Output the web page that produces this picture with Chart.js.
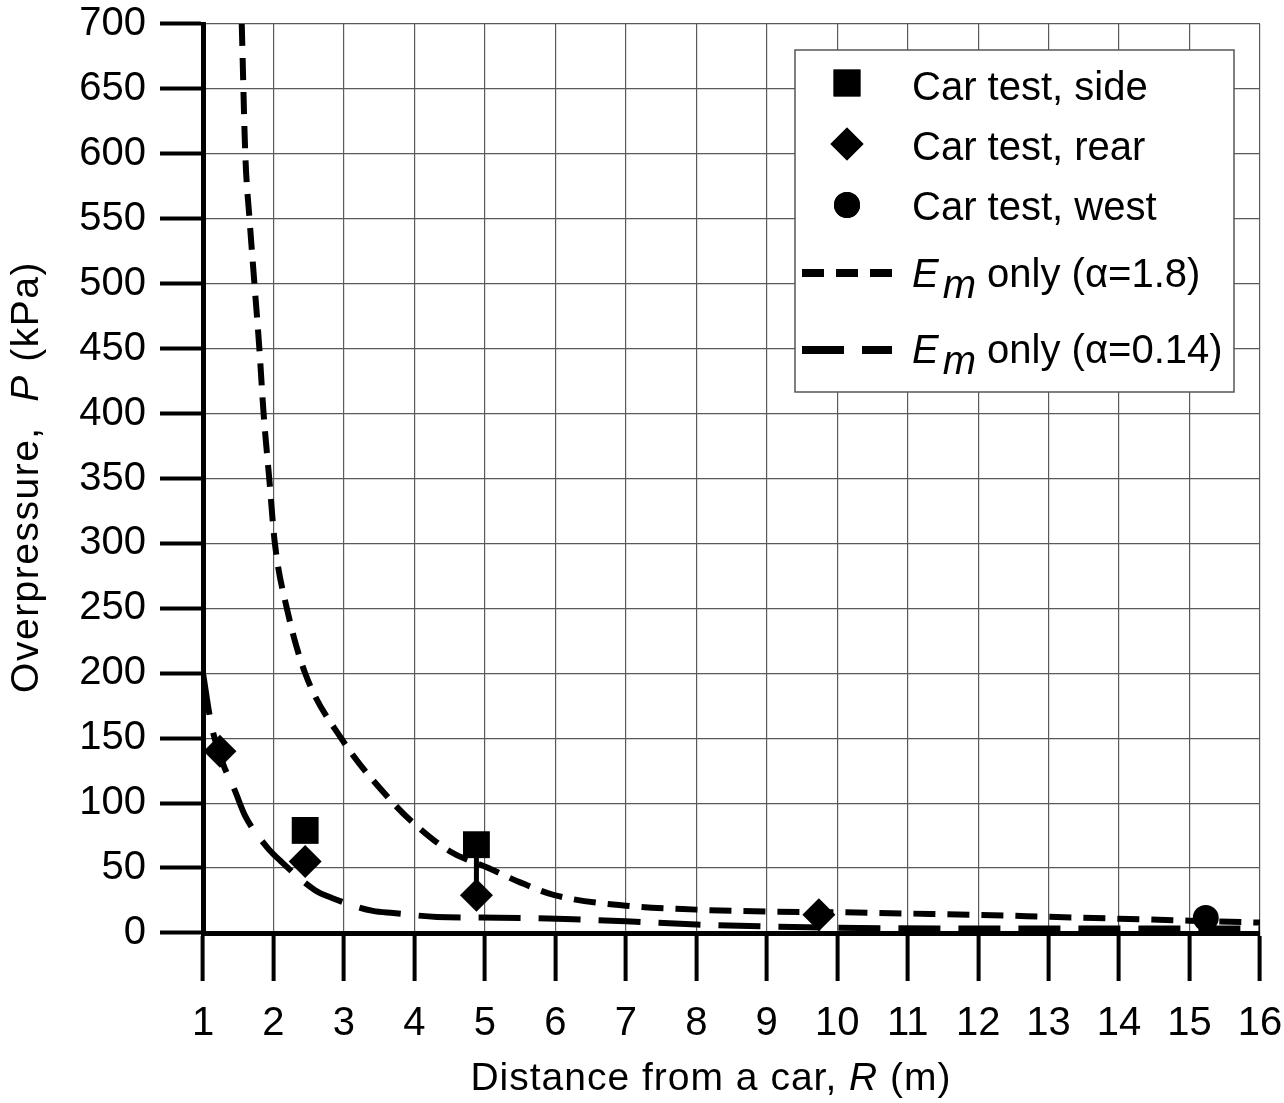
<!DOCTYPE html>
<html>
<head>
<meta charset="utf-8">
<script src="https://cdn.jsdelivr.net/npm/chart.js@4.4.0/dist/chart.umd.min.js"></script>
<style>
  html, body { margin: 0; padding: 0; background: #fff; }
</style>
</head>
<body>
<canvas id="grafico" width="1284" height="1103"></canvas>
<script>
// dados
const rotulos = ["Car test, side", "Car test, rear", "Car test, west", "E_m only (α=1.8)", "E_m only (α=0.14)"];

const ladoX = [2.45, 4.88];
const ladoY = [79, 68];

const traseiraX = [1.24, 2.45, 4.88, 9.74];
const traseiraY = [140, 55, 29, 14];

const oesteX = [15.23];
const oesteY = [11.5];

// barra vertical entre quadrado e losango em R = 4.88
const barraX = [4.88, 4.88];
const barraY = [68, 29];

// curva alpha = 1.8
const curvaAltaX = [1.55, 1.60, 1.66, 1.73, 1.80, 1.86, 1.94, 2.02, 2.19, 2.45, 2.96, 3.70, 3.98, 4.50, 5.05, 5.50, 6.00, 7, 8, 9, 10, 11, 12, 13, 14, 15, 16];
const curvaAltaY = [700, 600, 550, 500, 450, 400, 350, 300, 250, 200, 150, 100, 85, 63, 50, 39, 29, 21, 18, 16.5, 16, 15, 14, 12.5, 11, 9.5, 8];

// curva alpha = 0.14
const curvaBaixaX = [1.00, 1.12, 1.28, 1.45, 1.60, 1.91, 2.09, 2.59, 2.83, 3.41, 3.70, 4.32, 5.20, 6.14, 7, 8, 9, 10, 12, 14, 16];
const curvaBaixaY = [200, 160, 131, 110, 90, 66, 56, 33, 27, 17, 15.4, 12.4, 11.8, 10.8, 9, 6.5, 5, 4, 3.5, 3.5, 3.5];

const tituloX = [["Distance from a car, ", false], ["R", true], [" (m)", false]];
const tituloY = [["Overpressure,  ", false], ["P", true], [" (kPa)", false]];

const fonte = '"Liberation Sans", Arial, Helvetica, sans-serif';

function pares(xs, ys) {
  return xs.map((x, i) => ({ x: x, y: ys[i] }));
}

// desenha texto com partes em itálico, centrado em cx
function textoMisto(ctx, partes, cx, base, tamanho, espaco) {
  ctx.letterSpacing = espaco + "px";
  let total = 0;
  partes.forEach(p => {
    ctx.font = (p[1] ? "italic " : "") + tamanho + "px " + fonte;
    total += ctx.measureText(p[0]).width;
  });
  let x = cx - total / 2;
  partes.forEach(p => {
    ctx.font = (p[1] ? "italic " : "") + tamanho + "px " + fonte;
    ctx.fillText(p[0], x, base);
    x += ctx.measureText(p[0]).width;
  });
  ctx.letterSpacing = "0px";
}

const titulosEixos = {
  id: "titulosEixos",
  afterDraw(chart) {
    const ctx = chart.ctx;
    ctx.save();
    ctx.fillStyle = "#000";
    ctx.textAlign = "left";
    ctx.textBaseline = "alphabetic";
    textoMisto(ctx, tituloX, 711, 1090, 39, 1);

    ctx.translate(38, 477);
    ctx.rotate(-Math.PI / 2);
    textoMisto(ctx, tituloY, 0, 0, 39, 1.5);
    ctx.restore();
  }
};

// legenda desenhada à mão (subscrito em E_m)
const legendaCaixa = {
  id: "legendaCaixa",
  afterDraw(chart) {
    const ctx = chart.ctx;
    const centros = [83, 144, 205, 273, 350];
    const bases = [100, 160, 220, 287, 363];

    ctx.save();
    ctx.fillStyle = "#fff";
    ctx.fillRect(795, 50, 439, 342);
    ctx.strokeStyle = "#555";
    ctx.lineWidth = 1.5;
    ctx.strokeRect(795, 50, 439, 342);

    for (let i = 0; i < 5; i++) {
      const ds = chart.data.datasets[i];
      ctx.fillStyle = "#000";
      ctx.strokeStyle = "#000";

      if (ds.showLine) {
        ctx.save();
        ctx.lineWidth = ds.borderWidth + 2;
        ctx.setLineDash(ds.borderDash);
        ctx.beginPath();
        ctx.moveTo(802, centros[i]);
        ctx.lineTo(892, centros[i]);
        ctx.stroke();
        ctx.restore();
      } else {
        Chart.helpers.drawPoint(ctx, {
          pointStyle: ds.pointStyle,
          radius: ds.pointRadius,
          rotation: 0,
          borderWidth: 0
        }, 847, centros[i]);
        ctx.fill();
      }

      const texto = ds.label;
      ctx.textAlign = "left";
      ctx.textBaseline = "alphabetic";
      if (texto.indexOf("_") >= 0) {
        const letra = texto.split("_")[0];
        const resto = texto.split("_")[1];
        const sub = resto.charAt(0);
        const fim = resto.slice(1);
        let x = 912;
        ctx.font = "italic 40px " + fonte;
        ctx.fillText(letra, x, bases[i]);
        x += ctx.measureText(letra).width + 4;
        ctx.fillText(sub, x, bases[i] + 11);
        x += ctx.measureText(sub).width;
        ctx.font = "40px " + fonte;
        ctx.fillText(fim, x, bases[i]);
      } else {
        ctx.font = "40px " + fonte;
        ctx.fillText(texto, 912, bases[i]);
      }
    }
    ctx.restore();
  }
};

new Chart(document.getElementById("grafico"), {
  type: "scatter",
  data: {
    datasets: [
      {
        label: rotulos[0],
        data: pares(ladoX, ladoY),
        pointStyle: "rect",
        pointRadius: 19,
        pointBorderWidth: 0,
        backgroundColor: "#000",
        borderColor: "#000",
        showLine: false,
        order: 1
      },
      {
        label: rotulos[1],
        data: pares(traseiraX, traseiraY),
        pointStyle: "rectRot",
        pointRadius: 16.5,
        pointBorderWidth: 0,
        backgroundColor: "#000",
        borderColor: "#000",
        showLine: false,
        order: 1
      },
      {
        label: rotulos[2],
        data: pares(oesteX, oesteY),
        pointStyle: "circle",
        pointRadius: 13,
        pointBorderWidth: 0,
        backgroundColor: "#000",
        borderColor: "#000",
        showLine: false,
        order: 1
      },
      {
        label: rotulos[3],
        data: pares(curvaAltaX, curvaAltaY),
        showLine: true,
        borderColor: "#000",
        borderWidth: 6,
        borderDash: [22, 12],
        pointRadius: 0,
        cubicInterpolationMode: "monotone",
        order: 3
      },
      {
        label: rotulos[4],
        data: pares(curvaBaixaX, curvaBaixaY),
        showLine: true,
        borderColor: "#000",
        borderWidth: 6,
        borderDash: [42, 18],
        pointRadius: 0,
        cubicInterpolationMode: "monotone",
        order: 3
      },
      {
        label: "barra",
        data: pares(barraX, barraY),
        showLine: true,
        borderColor: "#000",
        borderWidth: 5,
        pointRadius: 0,
        order: 2
      }
    ]
  },
  options: {
    responsive: false,
    animation: false,
    devicePixelRatio: 1,
    events: [],
    layout: { padding: { top: 24, right: 24, left: 0, bottom: 0 } },
    plugins: {
      legend: { display: false },
      tooltip: { enabled: false }
    },
    scales: {
      x: {
        type: "linear",
        min: 1,
        max: 16,
        ticks: {
          stepSize: 1,
          autoSkip: false,
          maxRotation: 0,
          color: "#000",
          padding: 19,
          font: { family: fonte, size: 40 }
        },
        grid: { color: "#5a5a5a", lineWidth: 1.2, tickColor: "#000", tickWidth: 4, tickLength: 48 },
        border: { color: "#000", width: 5 },
        afterFit(scale) {
          scale.height = 170;
          scale.paddingLeft = 0;
          scale.paddingRight = 0;
        }
      },
      y: {
        min: 0,
        max: 700,
        ticks: {
          stepSize: 50,
          autoSkip: false,
          color: "#000",
          padding: 14,
          font: { family: fonte, size: 40 }
        },
        grid: { color: "#5a5a5a", lineWidth: 1.2, tickColor: "#000", tickWidth: 4, tickLength: 43 },
        border: { color: "#000", width: 5 },
        afterFit(scale) {
          scale.width = 203;
          scale.paddingTop = 0;
          scale.paddingBottom = 0;
        }
      }
    }
  },
  plugins: [titulosEixos, legendaCaixa]
});
</script>
</body>
</html>
